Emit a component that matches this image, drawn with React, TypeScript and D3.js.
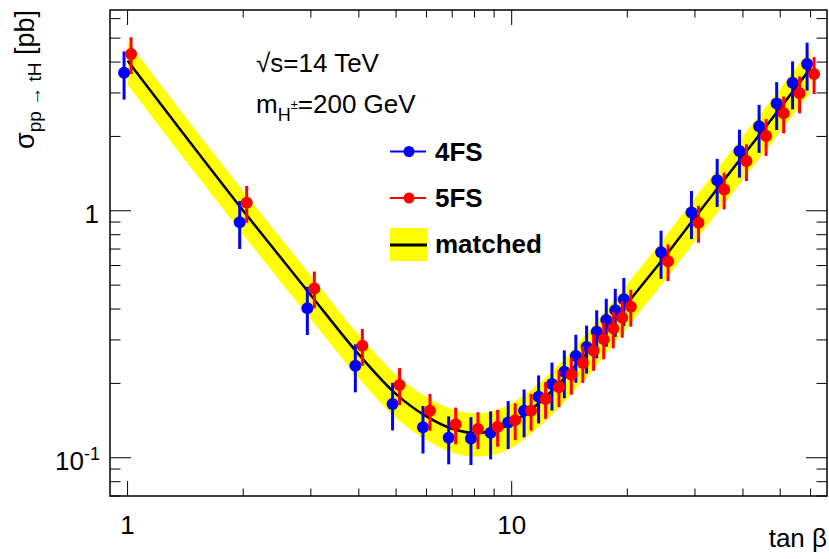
import React from "react";
import * as d3 from "d3";

const tanBeta = [1, 2, 3, 4, 5, 6, 7, 8, 9, 10, 11, 12, 13, 14, 15, 16, 17, 18, 19, 20, 25, 30, 35, 40, 45, 50, 55, 60];
const sigma4FS = [3.62, 0.898, 0.403, 0.236, 0.165, 0.133, 0.1205, 0.1197, 0.1263, 0.139, 0.155, 0.1766, 0.199, 0.223, 0.258, 0.281, 0.324, 0.361, 0.396, 0.438, 0.68, 0.985, 1.33, 1.745, 2.2, 2.72, 3.3, 3.93];
const err4FS = [0.8, 0.198, 0.089, 0.052, 0.036, 0.029, 0.0265, 0.0263, 0.0278, 0.0306, 0.034, 0.0389, 0.0438, 0.049, 0.0568, 0.0618, 0.0713, 0.0794, 0.0871, 0.0964, 0.15, 0.217, 0.293, 0.384, 0.484, 0.598, 0.726, 0.865];
const sigma5FS = [4.31, 1.077, 0.485, 0.284, 0.197, 0.155, 0.1365, 0.1307, 0.1335, 0.142, 0.155, 0.173, 0.193, 0.217, 0.242, 0.271, 0.3015, 0.334, 0.369, 0.409, 0.625, 0.895, 1.22, 1.59, 2.01, 2.48, 2.99, 3.58];
const err5FS = [0.73, 0.183, 0.0825, 0.0483, 0.0335, 0.0264, 0.0232, 0.0222, 0.0227, 0.0241, 0.0264, 0.0294, 0.0328, 0.0369, 0.0411, 0.0461, 0.0513, 0.0568, 0.0627, 0.0695, 0.106, 0.152, 0.207, 0.27, 0.342, 0.422, 0.508, 0.609];
const sigmaMatched = [4.05, 1.0, 0.455, 0.262, 0.181, 0.147, 0.131, 0.126, 0.129, 0.138, 0.153, 0.171, 0.193, 0.217, 0.247, 0.274, 0.309, 0.345, 0.38, 0.421, 0.65, 0.94, 1.28, 1.67, 2.11, 2.61, 3.16, 3.78];
const bandUpper = [4.86, 1.2, 0.546, 0.314, 0.217, 0.176, 0.157, 0.151, 0.155, 0.166, 0.184, 0.205, 0.232, 0.26, 0.296, 0.329, 0.371, 0.414, 0.456, 0.505, 0.78, 1.128, 1.536, 2.004, 2.532, 3.132, 3.792, 4.536];
const bandLower = [3.24, 0.8, 0.364, 0.21, 0.145, 0.118, 0.105, 0.101, 0.103, 0.11, 0.122, 0.137, 0.154, 0.174, 0.198, 0.219, 0.247, 0.276, 0.304, 0.337, 0.52, 0.752, 1.024, 1.336, 1.688, 2.088, 2.528, 3.024];

const xMajorTicks = [1, 10];
const xMinorTicks = [2, 3, 4, 5, 6, 7, 8, 9, 20, 30, 40, 50, 60];
const yMajorTicks = [0.1, 1];
const yMinorTicks = [0.07, 0.08, 0.09, 0.2, 0.3, 0.4, 0.5, 0.6, 0.7, 0.8, 0.9, 2, 3, 4, 5, 6];

const W = 829;
const H = 559;
const left = 110, right = 827, top = 10, bottom = 496;
const FONT = "'Liberation Sans', Arial, Helvetica, sans-serif";
const BLUE = "#0000ff";
const RED = "#ff0000";
const YELLOW = "#ffff00";

export default function App() {
  const x = d3.scaleLog().domain([0.9, 66.2]).range([left, right]);
  const y = d3.scaleLog().domain([0.07, 6.5]).range([bottom, top]);

  const bandArea = d3
    .area<number>()
    .x((_, i) => x(tanBeta[i]))
    .y0((_, i) => y(bandLower[i]))
    .y1((_, i) => y(bandUpper[i]))
    .curve(d3.curveMonotoneX);
  const line = d3
    .line<number>()
    .x((_, i) => x(tanBeta[i]))
    .y((d) => y(d))
    .curve(d3.curveMonotoneX);

  const dodge = 3.5;
  const series = [
    { vals: sigma4FS, errs: err4FS, color: BLUE, dx: -dodge },
    { vals: sigma5FS, errs: err5FS, color: RED, dx: dodge },
  ];

  const xMajLen = 15, xMinLen = 7.5, yMajLen = 21, yMinLen = 10.5;

  return (
    <svg width={W} height={H} style={{ position: "absolute", left: 0, top: 0, background: "#fff" }} fontFamily={FONT}>
      <rect x={0} y={0} width={W} height={H} fill="#fff" />
      {/* band */}
      <path d={bandArea(bandUpper) || ""} fill={YELLOW} stroke="none" />
      <path d={line(sigmaMatched) || ""} fill="none" stroke="#000" strokeWidth={2.5} />

      {/* points */}
      {series.map((s, si) => (
        <g key={si}>
          {s.vals.map((v, i) => (
            <line
              key={"e" + i}
              x1={x(tanBeta[i]) + s.dx}
              x2={x(tanBeta[i]) + s.dx}
              y1={y(v + s.errs[i])}
              y2={y(v - s.errs[i])}
              stroke={s.color}
              strokeWidth={3}
            />
          ))}
          {s.vals.map((v, i) => (
            <circle key={"c" + i} cx={x(tanBeta[i]) + s.dx} cy={y(v)} r={6} fill={s.color} />
          ))}
        </g>
      ))}

      {/* frame */}
      <rect x={left} y={top} width={right - left} height={bottom - top} fill="none" stroke="#000" strokeWidth={1.5} />

      {/* x ticks */}
      {xMajorTicks.map((t) => (
        <g key={"xM" + t}>
          <line x1={x(t)} x2={x(t)} y1={bottom} y2={bottom - xMajLen} stroke="#000" strokeWidth={1} />
          <line x1={x(t)} x2={x(t)} y1={top} y2={top + xMajLen} stroke="#000" strokeWidth={1} />
          <text x={x(t)} y={534} fontSize={26} textAnchor="middle">{t}</text>
        </g>
      ))}
      {xMinorTicks.map((t) => (
        <g key={"xm" + t}>
          <line x1={x(t)} x2={x(t)} y1={bottom} y2={bottom - xMinLen} stroke="#000" strokeWidth={1} />
          <line x1={x(t)} x2={x(t)} y1={top} y2={top + xMinLen} stroke="#000" strokeWidth={1} />
        </g>
      ))}
      {/* y ticks */}
      {yMajorTicks.map((t) => (
        <g key={"yM" + t}>
          <line x1={left} x2={left + yMajLen} y1={y(t)} y2={y(t)} stroke="#000" strokeWidth={1} />
          <line x1={right} x2={right - yMajLen} y1={y(t)} y2={y(t)} stroke="#000" strokeWidth={1} />
        </g>
      ))}
      {yMinorTicks.map((t) => (
        <g key={"ym" + t}>
          <line x1={left} x2={left + yMinLen} y1={y(t)} y2={y(t)} stroke="#000" strokeWidth={1} />
          <line x1={right} x2={right - yMinLen} y1={y(t)} y2={y(t)} stroke="#000" strokeWidth={1} />
        </g>
      ))}
      <text x={99} y={y(1) + 12} fontSize={26} textAnchor="end">1</text>
      <text x={100} y={y(0.1) + 12} fontSize={26} textAnchor="end">
        10<tspan fontSize={18} dy={-10}>-1</tspan>
      </text>

      {/* axis titles */}
      <text x={827} y={547} fontSize={26} textAnchor="end">tan β</text>
      <text transform={`translate(34,10) rotate(-90)`} fontSize={27} textAnchor="end">
        σ<tspan fontSize={19} dy={7}>pp → tH</tspan>
        <tspan dy={-7}> [pb]</tspan>
      </text>

      {/* annotations */}
      <text x={256} y={72} fontSize={26}>√s=14 TeV</text>
      <text x={256} y={113} fontSize={26}>
        m<tspan fontSize={18} dy={8}>H</tspan>
        <tspan fontSize={13} dy={-12}>±</tspan>
        <tspan dy={4}>=200 GeV</tspan>
      </text>

      {/* legend */}
      <line x1={390} x2={426} y1={151.5} y2={151.5} stroke={BLUE} strokeWidth={2} />
      <circle cx={409} cy={151.5} r={5.5} fill={BLUE} />
      <text x={435} y={161} fontSize={26} fontWeight="bold">4FS</text>
      <line x1={390} x2={426} y1={198} y2={198} stroke={RED} strokeWidth={2} />
      <circle cx={409} cy={198} r={5.5} fill={RED} />
      <text x={435} y={207} fontSize={26} fontWeight="bold">5FS</text>
      <rect x={390} y={228} width={37} height={33} fill={YELLOW} />
      <line x1={390} x2={427} y1={245} y2={245} stroke="#000" strokeWidth={3} />
      <text x={435} y={253} fontSize={26} fontWeight="bold">matched</text>
    </svg>
  );
}
